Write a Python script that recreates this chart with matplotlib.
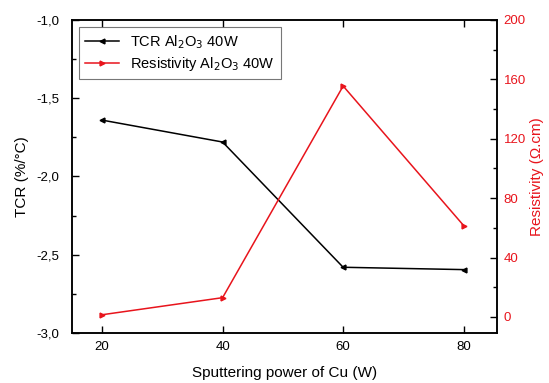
import matplotlib
matplotlib.use('Agg')
import matplotlib.pyplot as plt
from matplotlib.ticker import MultipleLocator, FuncFormatter

plt.rcParams['font.family'] = ['Liberation Sans', 'DejaVu Sans']

power = [20, 40, 60, 80]
tcr = [-1.64, -1.78, -2.58, -2.595]
resistivity = [1.5, 13, 155.5, 61.5]

fig = plt.figure(figsize=(5.49, 3.83), dpi=100)
ax = fig.add_axes([0.131, 0.1305, 0.774, 0.8175])
ax2 = ax.twinx()

l1, = ax.plot(power, tcr, color='black', marker='<', markersize=3.5, linewidth=1.1,
              label='TCR Al$_2$O$_3$ 40W')
l2, = ax2.plot(power, resistivity, color='#e8141c', marker='>', markersize=3.5, linewidth=1.1,
               label='Resistivity Al$_2$O$_3$ 40W')

ax.set_xlim(15, 85.5)
ax.set_ylim(-3.0, -1.0)
ax2.set_ylim(-10.8, 200)

comma = FuncFormatter(lambda v, p: ('%.1f' % v).replace('.', ','))
ax.yaxis.set_major_locator(MultipleLocator(0.5))
ax.yaxis.set_minor_locator(MultipleLocator(0.25))
ax.yaxis.set_major_formatter(comma)
ax.xaxis.set_major_locator(MultipleLocator(20))
ax2.yaxis.set_major_locator(MultipleLocator(40))
ax2.yaxis.set_minor_locator(MultipleLocator(20))

ax.tick_params(axis='both', which='both', direction='in', labelsize=9.5, width=1)
ax.tick_params(axis='x', top=True, pad=6)
ax.tick_params(axis='y', pad=9)
ax.tick_params(which='major', length=5)
ax.tick_params(which='minor', length=3)
ax2.tick_params(axis='y', which='both', direction='in', labelsize=9.5, colors='black',
                labelcolor='#e8141c', width=1, pad=5)
ax2.tick_params(which='major', length=5)
ax2.tick_params(which='minor', length=3)

for a in (ax, ax2):
    for s in a.spines.values():
        s.set_linewidth(1.1)

ax.set_xlabel('Sputtering power of Cu (W)', fontsize=11, labelpad=9)
ax.set_ylabel('TCR (%/°C)', fontsize=11, labelpad=5)
ax2.set_ylabel('Resistivity (Ω.cm)', fontsize=11, color='#e8141c', labelpad=3)

leg = ax.legend(handles=[l1, l2], loc='upper left', fontsize=10.5, frameon=True,
                fancybox=False, edgecolor='#555555', handlelength=2.3,
                borderaxespad=0.5, labelspacing=0.3)
leg.get_frame().set_linewidth(0.8)

fig.savefig('out.png', dpi=100)
